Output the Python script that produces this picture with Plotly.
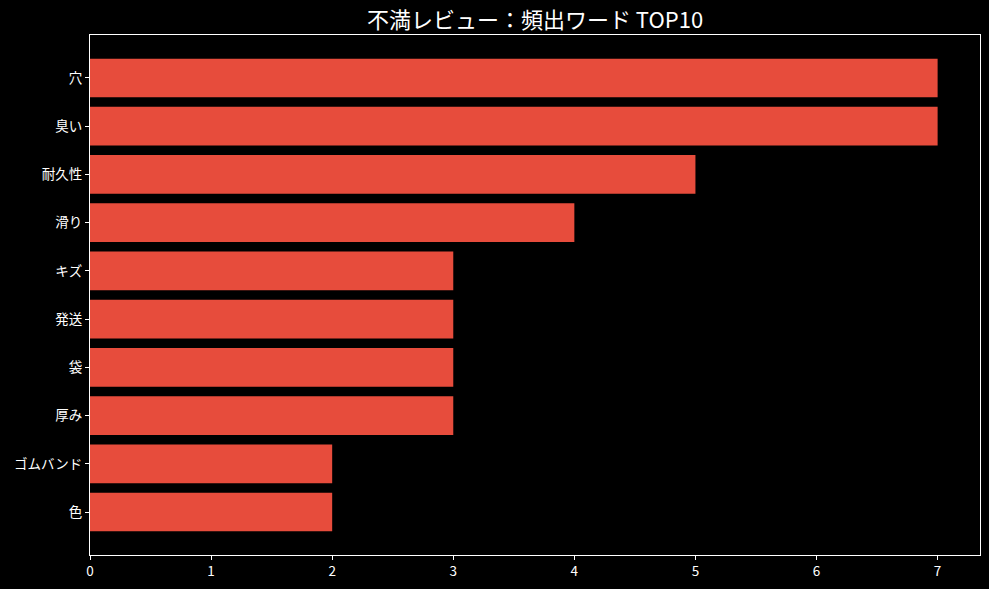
import plotly.graph_objects as go

# 頻出ワード (上から順)
words = ["穴", "臭い", "耐久性", "滑り", "キズ", "発送", "袋", "厚み", "ゴムバンド", "色"]
counts = [7, 7, 5, 4, 3, 3, 3, 3, 2, 2]
x_ticks = [0, 1, 2, 3, 4, 5, 6, 7]

font_jp = "Noto Sans CJK JP"
bar_color = "#E74C3C"

fig = go.Figure()
fig.add_trace(go.Bar(
    x=counts,
    y=words,
    orientation="h",
    width=0.8,
    marker=dict(color=bar_color, line=dict(width=0)),
    showlegend=False,
))

n = len(words)
fig.update_layout(
    width=989, height=589,
    margin=dict(l=90, r=9, t=35, b=34),
    paper_bgcolor="black", plot_bgcolor="black",
    font=dict(family=font_jp, color="white", size=13.5),
    title=dict(text="不満レビュー：頻出ワード TOP10", xref="paper", x=0.5, xanchor="center",
               y=1 - 20 / 589, yanchor="middle",
               font=dict(size=22, color="white", family=font_jp)),
    bargap=0.2,
)
fig.update_xaxes(
    range=[0, max(counts) * 1.05],
    tickvals=x_ticks,
    showgrid=False, zeroline=False,
    showline=True, linecolor="white", linewidth=1, mirror=True,
    ticks="outside", ticklen=4, tickcolor="white", tickwidth=1,
    tickfont=dict(size=13.5, color="white"),
)
fig.update_yaxes(
    range=[n - 1 + 0.89, -0.89],
    showgrid=False, zeroline=False,
    showline=True, linecolor="white", linewidth=1, mirror=True,
    ticks="outside", ticklen=4, tickcolor="white", tickwidth=1,
    tickfont=dict(size=13.5, color="white"),
)

# ページ既定の余白を消す
fig.write_html("out.html", config={"displayModeBar": False},
               post_script="document.body.style.margin='0';document.body.style.background='black';")
